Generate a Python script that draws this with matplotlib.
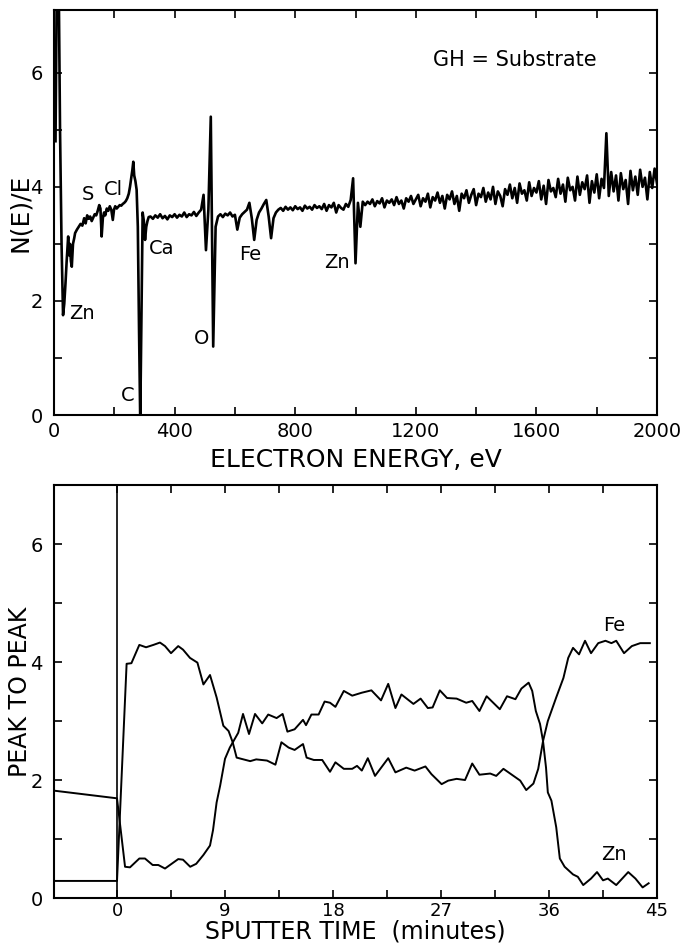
import numpy as np
import matplotlib
matplotlib.use("Agg")
import matplotlib.pyplot as plt

plt.rcParams['font.family'] = ['DejaVu Sans']

# ---- top panel: Auger spectrum, N(E)/E vs electron energy (eV) ----
# low energy part, read point by point
low_energy = [5, 9, 16, 20, 25, 30, 34, 38, 42, 47, 50, 53, 56, 59, 63, 67, 70, 76, 82, 88,
              94, 100, 105, 110, 115, 120, 125, 130, 135, 140, 145, 150, 154, 158, 162, 166, 170, 175, 180, 185,
              190, 195, 199, 203, 208, 213, 218, 223, 228, 233, 238, 243, 248, 252, 256, 260, 263, 266, 270, 274,
              278, 282, 286, 290, 294, 298, 302, 306, 310, 314]
low_signal = [4.8, 7.4, 7.4, 5.0, 3.0, 1.75, 1.95, 2.3, 2.7, 3.13, 2.8, 3.0, 2.7, 2.6, 3.0, 3.1, 3.19, 3.25, 3.3, 3.35,
              3.32, 3.45, 3.36, 3.5, 3.44, 3.48, 3.40, 3.46, 3.52, 3.50, 3.58, 3.68, 3.62, 3.13, 3.45, 3.55, 3.50, 3.62, 3.58, 3.66,
              3.60, 3.42, 3.60, 3.66, 3.62, 3.65, 3.68, 3.67, 3.70, 3.72, 3.75, 3.80, 3.88, 4.00, 4.15, 4.30, 4.44, 4.20, 4.10, 3.95,
              3.30, 1.50, -0.10, 1.80, 3.55, 3.40, 3.07, 3.30, 3.40, 3.47]

# 320 .. 2000 eV every 8 eV
mid_energy = np.arange(320, 2001, 8)
mid_signal = [
    3.48, 3.44, 3.50, 3.46, 3.52, 3.45, 3.49, 3.43, 3.50, 3.47,   # 320
    3.52, 3.46, 3.51, 3.48, 3.55, 3.47, 3.52, 3.50, 3.56, 3.49,   # 400
    3.55, 3.60, 3.86, 2.89, 3.60, 5.23, 1.20, 3.30, 3.48, 3.52,   # 480  (O)
    3.47, 3.53, 3.50, 3.55, 3.48, 3.51, 3.25, 3.46, 3.52, 3.56,   # 560
    3.60, 3.72, 3.45, 3.07, 3.42, 3.55, 3.62, 3.70, 3.77, 3.48,   # 640  (Fe)
    3.10, 3.45, 3.55, 3.60, 3.63, 3.58, 3.65, 3.60, 3.64, 3.59,   # 720
    3.66, 3.61, 3.64, 3.58, 3.67, 3.62, 3.65, 3.60, 3.68, 3.63,   # 800
    3.66, 3.61, 3.70, 3.58, 3.68, 3.64, 3.72, 3.55, 3.68, 3.63,   # 880
    3.60, 3.70, 3.65, 3.77, 4.15, 2.66, 3.72, 3.30, 3.74, 3.68,   # 960  (Zn)
    3.74, 3.70, 3.78, 3.66, 3.75, 3.71, 3.80, 3.64, 3.76, 3.72,   # 1040
    3.78, 3.68, 3.82, 3.70, 3.76, 3.62, 3.80, 3.74, 3.84, 3.70,   # 1120
    3.78, 3.86, 3.66, 3.80, 3.74, 3.88, 3.64, 3.82, 3.76, 3.90,   # 1200
    3.72, 3.84, 3.62, 3.86, 3.78, 3.92, 3.70, 3.84, 3.58, 3.88,   # 1280
    3.80, 3.94, 3.72, 3.86, 3.96, 3.68, 3.88, 3.82, 3.98, 3.74,   # 1360
    3.90, 3.78, 4.00, 3.70, 3.92, 3.84, 3.66, 3.96, 3.86, 4.04,   # 1440
    3.80, 3.98, 3.72, 4.06, 3.88, 3.94, 3.76, 4.08, 3.84, 3.98,   # 1520
    3.90, 4.10, 3.78, 4.02, 3.70, 4.12, 3.92, 3.98, 3.82, 4.14,   # 1600
    3.88, 4.04, 3.74, 4.16, 3.94, 4.00, 3.76, 4.18, 3.86, 4.08,   # 1680
    3.96, 4.20, 3.72, 4.10, 3.90, 4.22, 3.80, 4.14, 3.98, 4.94,   # 1760
    3.84, 4.26, 3.92, 4.20, 3.76, 4.24, 3.96, 4.12, 3.70, 4.28,   # 1840
    3.94, 4.18, 3.86, 4.30, 4.00, 4.16, 3.78, 4.26, 3.98, 4.32,   # 1920
    4.06,                                                         # 2000
]

energy = np.concatenate([low_energy, mid_energy])
signal = np.concatenate([low_signal, mid_signal])

# peak labels: (text, energy, value)
spec_labels = [("S", 114, 3.86), ("Cl", 197, 3.95), ("Zn", 92, 1.78), ("C", 246, 0.35),
               ("Ca", 357, 2.92), ("O", 490, 1.35), ("Fe", 650, 2.81), ("Zn", 940, 2.67)]

# ---- bottom panel: depth profile, peak to peak vs sputter time (min) ----
fe_time = [-5.25, 0.0, 0.8, 1.2, 1.86, 2.42, 3.03, 3.58, 4.0, 4.5, 5.1, 5.5, 6.08, 6.7, 7.2, 7.75,
           8.3, 8.86, 9.3, 9.64, 9.97, 11.1, 11.6, 12.5, 13.2, 13.7, 14.3, 14.8, 15.5, 15.8, 16.4, 17.1,
           17.75, 18.2, 18.9, 19.6, 20.0, 20.4, 20.9, 21.5, 22.6, 23.2, 24.1, 24.8, 25.7, 26.2, 27.05, 27.6,
           28.3, 29.0, 29.6, 30.2, 31.1, 31.6, 32.2, 32.9, 33.6, 34.1, 34.7, 35.1, 35.5, 35.9, 36.6, 37.2,
           37.6, 38.0, 38.5, 39.0, 39.5, 40.1, 40.7, 41.2, 41.6, 42.25, 42.9, 43.6, 44.4]
fe_peak = [0.29, 0.29, 3.97, 3.98, 4.29, 4.25, 4.29, 4.33, 4.27, 4.15, 4.27, 4.21, 4.07, 3.99, 3.62, 3.78,
           3.40, 2.92, 2.83, 2.64, 2.38, 2.32, 2.35, 2.33, 2.26, 2.64, 2.55, 2.51, 2.61, 2.38, 2.34, 2.34,
           2.14, 2.30, 2.19, 2.19, 2.24, 2.16, 2.37, 2.07, 2.37, 2.13, 2.21, 2.16, 2.23, 2.10, 1.93, 1.99,
           2.02, 2.00, 2.28, 2.09, 2.11, 2.07, 2.19, 2.09, 1.99, 1.83, 1.94, 2.19, 2.66, 3.00, 3.40, 3.73,
           4.07, 4.24, 4.13, 4.36, 4.15, 4.32, 4.36, 4.32, 4.36, 4.15, 4.27, 4.32, 4.32]

zn_time = [-5.25, 0.0, 0.67, 1.08, 1.86, 2.33, 2.97, 3.44, 4.0, 4.55, 5.1, 5.5, 6.1, 6.6, 7.2, 7.75,
           8.0, 8.3, 8.6, 9.0, 9.4, 10.1, 10.5, 11.0, 11.5, 12.1, 12.6, 13.3, 13.8, 14.2, 14.8, 15.5,
           15.75, 16.2, 16.8, 17.3, 17.75, 18.2, 18.9, 19.6, 20.4, 21.2, 22.0, 22.6, 23.2, 23.7, 24.7, 25.3,
           25.9, 26.3, 26.9, 27.5, 28.3, 29.1, 29.6, 30.2, 30.8, 31.9, 32.5, 33.2, 33.7, 34.3, 34.6, 34.9,
           35.25, 35.5, 35.75, 35.9, 36.2, 36.6, 36.9, 37.3, 38.0, 38.4, 38.85, 39.5, 40.0, 40.5, 40.9, 41.6,
           42.6, 43.2, 43.8, 44.3]
zn_peak = [1.82, 1.69, 0.53, 0.52, 0.67, 0.67, 0.56, 0.56, 0.50, 0.58, 0.66, 0.65, 0.53, 0.58, 0.73, 0.89,
           1.15, 1.62, 1.91, 2.36, 2.55, 2.80, 3.12, 2.78, 3.12, 2.96, 3.11, 3.05, 3.12, 2.82, 2.86, 3.02,
           2.93, 3.11, 3.11, 3.33, 3.31, 3.24, 3.51, 3.43, 3.48, 3.52, 3.35, 3.63, 3.22, 3.45, 3.29, 3.38,
           3.22, 3.23, 3.52, 3.39, 3.38, 3.31, 3.34, 3.17, 3.42, 3.20, 3.42, 3.37, 3.55, 3.65, 3.51, 3.17,
           2.95, 2.66, 2.21, 1.79, 1.65, 1.20, 0.67, 0.53, 0.40, 0.36, 0.22, 0.33, 0.44, 0.30, 0.33, 0.22,
           0.44, 0.33, 0.18, 0.25]

energy_ticks = np.arange(0, 2001, 200)
time_ticks = np.arange(0, 45.1, 4.5)
value_ticks = np.arange(0, 7)


def style_axes(ax):
    for s in ax.spines.values():
        s.set_linewidth(1.5)
    ax.tick_params(direction='in', top=True, right=True, length=6, width=1.2,
                   labelsize=14, pad=5)
    ax.tick_params(axis='y', pad=8)
    ax.set_yticks(value_ticks)
    ax.set_yticklabels([str(v) if v % 2 == 0 else '' for v in value_ticks])


def place_labels(ax, xlab, ylab, x_y, y_x, size=18):
    ax.set_xlabel(xlab, fontsize=size)
    ax.set_ylabel(ylab, fontsize=size)
    ax.xaxis.label.set_va('center')
    ax.yaxis.label.set_va('center')
    ax.xaxis.set_label_coords(0.5, x_y)
    ax.yaxis.set_label_coords(y_x, 0.5)


fig = plt.figure(figsize=(6.81, 9.46), dpi=100)

ax1 = fig.add_axes([0.0793, 0.5613, 0.8855, 0.4281])
ax1.plot(energy, signal, color='black', lw=1.9)
ax1.set_xlim(0, 2000)
ax1.set_ylim(0, 7.1)
style_axes(ax1)
ax1.set_xticks(energy_ticks)
ax1.set_xticklabels([str(e) if e % 400 == 0 else '' for e in energy_ticks])
place_labels(ax1, 'ELECTRON ENERGY, eV', 'N(E)/E', -0.112, -0.057)
for txt, e, v in spec_labels:
    ax1.text(e, v, txt, fontsize=14, ha='center', va='center')
ax1.text(1256, 6.23, 'GH = Substrate', fontsize=15, ha='left', va='center')

ax2 = fig.add_axes([0.0793, 0.0507, 0.8855, 0.4366])
ax2.plot(fe_time, fe_peak, color='black', lw=1.4)
ax2.plot(zn_time, zn_peak, color='black', lw=1.4)
ax2.axvline(0, color='black', lw=1.2)
ax2.set_xlim(-5.25, 45)
ax2.set_ylim(0, 7.0)
style_axes(ax2)
ax2.tick_params(axis='x', labelsize=13, pad=3)
ax2.set_xticks(time_ticks)
ax2.set_xticklabels([f'{t:g}' if t % 9 == 0 else '' for t in time_ticks])
place_labels(ax2, 'SPUTTER TIME  (minutes)', 'PEAK TO PEAK', -0.082, -0.057, size=17)
ax2.text(41.4, 4.62, 'Fe', fontsize=14, ha='center', va='center')
ax2.text(41.4, 0.73, 'Zn', fontsize=14, ha='center', va='center')

fig.savefig('out.png', dpi=100)
